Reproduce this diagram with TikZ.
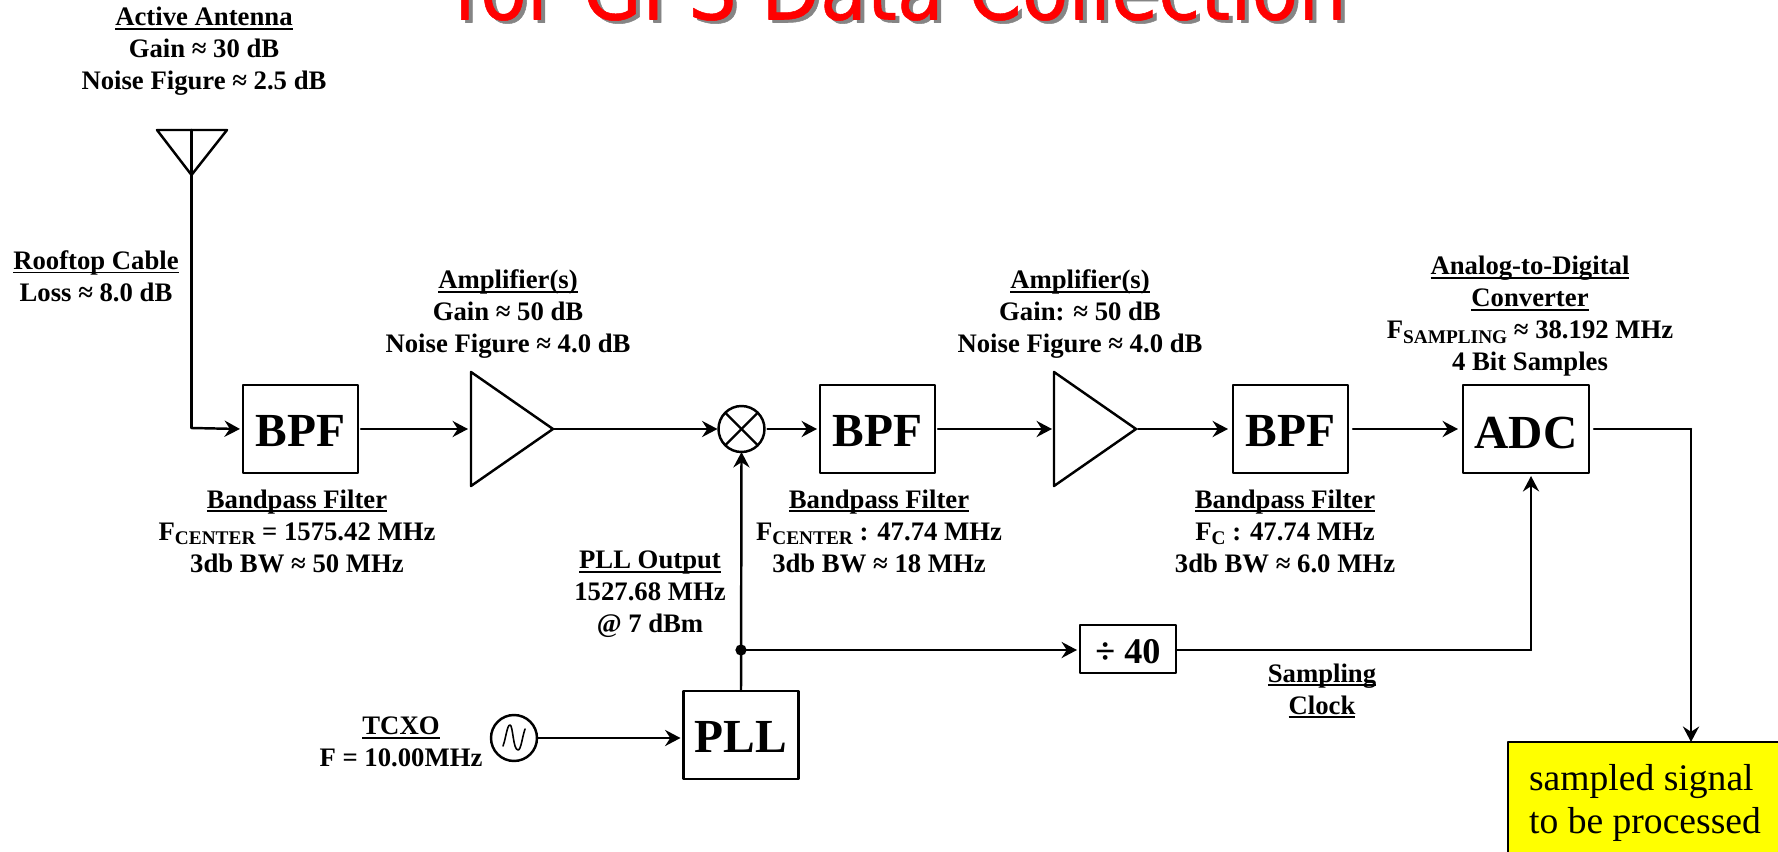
\documentclass[tikz,border=0pt]{standalone}
\usepackage{fontspec}
\setmainfont{Liberation Serif}
\newfontfamily\titlefont[FakeStretch=0.9,FakeBold=0.6]{DejaVu Sans}
\usetikzlibrary{arrows.meta,shapes.geometric}
\definecolor{titleRed}{HTML}{FF0000}
\definecolor{titleShadow}{HTML}{858585}
\definecolor{noteYellow}{HTML}{FFFF00}
\newcommand{\lowtxt}[1]{\raisebox{-0.4ex}{\fontsize{5.5}{6}\selectfont #1}}
\newcommand{\ultxt}[1]{\setbox0=\hbox{#1}\rlap{\rule[-1.2pt]{\wd0}{0.55pt}}\box0}
\tikzset{
    rfbox/.style={draw, line width=0.7pt, inner sep=0pt, outer sep=0pt, minimum width=1.15cm, minimum height=0.88cm, align=center, text height=0.35cm, font=\fontsize{13.5}{15}\selectfont\bfseries},
    rfamp/.style={draw, line width=0.7pt, shape=isosceles triangle, isosceles triangle stretches, minimum width=1.14cm, minimum height=0.82cm, inner sep=0pt, outer sep=0pt, anchor=lower side},
    rfnote/.style={align=center, inner sep=0pt, font=\fontsize{7.6}{9.1}\selectfont\bfseries},
    rfline/.style={-{Stealth[length=4.4pt, width=4.6pt, inset=1.5pt]}, line width=0.7pt},
    rfwire/.style={line width=0.7pt}
}
\begin{document}
\begin{tikzpicture}[line cap=round, line join=round]
            \useasboundingbox (0,0.02) rectangle (17.78,8.53);

            % clipped heading and note box
            \begin{scope}
            \clip (0,0.02) rectangle (17.78,8.53);
            \node[anchor=base, inner sep=0pt, text=titleShadow, font=\fontsize{24.2}{26}\selectfont\titlefont] (headshadow) at (9.04,8.305) {for GPS Data Collection};
            \node[anchor=base, inner sep=0pt, text=titleRed, font=\fontsize{24.2}{26}\selectfont\titlefont] (head) at (9.00,8.335) {for GPS Data Collection};
            \node[draw, fill=noteYellow, line width=0.7pt, anchor=north west, minimum width=3.0cm, minimum height=1.11cm, inner sep=0pt, outer sep=0pt] (sampled) at (15.08,1.11) {};
            \end{scope}
            \node[align=left, inner sep=0pt, font=\fontsize{10.7}{12.2}\selectfont] (sampledtxt) at (16.45,0.50) {sampled signal\\to be processed};

            % antenna
            \coordinate (anttop) at (1.915,7.23);
            \coordinate (anttip) at (1.915,6.78);
            \coordinate (antbend) at (1.915,4.25);
            \draw[rfwire] (1.57,7.23) -- (2.27,7.23) -- (anttip) -- cycle;
            \draw[rfwire] (anttop) -- (anttip);

            % main chain
            \node[rfbox] (bpfa) at (3.005,4.24) {BPF};
            \node[rfamp] (ampa) at (4.71,4.24) {};
            \node[draw, circle, line width=0.7pt, minimum size=0.46cm, inner sep=0pt, outer sep=0pt] (mix) at (7.415,4.24) {};
            \node[rfbox] (bpfb) at (8.775,4.24) {BPF};
            \node[rfamp] (ampb) at (10.54,4.24) {};
            \node[rfbox] (bpfc) at (12.905,4.24) {BPF};
            \node[rfbox, minimum width=1.26cm, text height=0.40cm] (adc) at (15.26,4.24) {ADC};
            \node[rfbox] (pll) at (7.41,1.18) {PLL};
            \node[rfbox, minimum width=0.96cm, minimum height=0.48cm, text height=0.29cm, font=\fontsize{10.3}{12}\selectfont\bfseries] (divider) at (11.28,2.04) {÷ 40};
            \node[draw, circle, line width=0.7pt, minimum size=0.46cm, inner sep=0pt, outer sep=0pt] (osc) at (5.14,1.15) {};

            % mixer cross and oscillator sine
            \draw[rfwire] (mix.north west) -- (mix.south east);
            \draw[rfwire] (mix.north east) -- (mix.south west);
            \begin{scope}[shift={(osc.center)}]
            \draw[line width=0.45pt] (-0.11,-0.08) .. controls (-0.08,0) and (-0.07,0.13) .. (-0.04,0.13) .. controls (-0.01,0.13) and (-0.01,-0.12) .. (0.04,-0.12) .. controls (0.07,-0.12) and (0.08,0) .. (0.11,0.09);
            \end{scope}

            % connectors
            \draw[rfwire] (anttip) -- (antbend);
            \draw[rfline] (antbend) -- ([xshift=-0.03cm]bpfa.west);
            \draw[rfline] ([xshift=0.03cm]bpfa.east) -- ([xshift=-0.03cm]ampa.lower side);
            \draw[rfline] (ampa.apex) -- ([xshift=-0.01cm]mix.west);
            \draw[rfline] ([xshift=0.03cm]mix.east) -- ([xshift=-0.03cm]bpfb.west);
            \draw[rfline] ([xshift=0.03cm]bpfb.east) -- ([xshift=-0.02cm]ampb.lower side);
            \draw[rfline] ([xshift=0.02cm]ampb.apex) -- ([xshift=-0.05cm]bpfc.west);
            \draw[rfline] ([xshift=0.05cm]bpfc.east) -- ([xshift=-0.05cm]adc.west);
            \coordinate (adcbend) at (16.91,4.24);
            \draw[rfwire] ([xshift=0.05cm]adc.east) -- (adcbend);
            \draw[rfline] (adcbend) -- (sampled.north -| adcbend);
            \draw[rfline] (pll.north) -- (mix.south);
            \coordinate (tap) at (7.41,2.03);
            \fill (tap) circle (1.6pt);
            \draw[rfline] (tap) -- ([xshift=-0.03cm]divider.west |- tap);
            \coordinate (clkbend) at (15.31,2.03);
            \draw[rfwire] (divider.east |- tap) -- (clkbend);
            \draw[rfline] (clkbend) -- ([yshift=-0.03cm]adc.south -| clkbend);
            \draw[rfline] (osc.east) -- ([xshift=-0.03cm]pll.west |- osc.east);

            % labels
            \node[rfnote] (antlabel) at (2.04,8.02) {\ultxt{Active Antenna}\\Gain ≈ 30 dB\\Noise Figure ≈ 2.5 dB};
            \node[rfnote] (cablelabel) at (0.96,5.77) {\ultxt{Rooftop Cable}\\Loss ≈ 8.0 dB};
            \node[rfnote] (ampalabel) at (5.08,5.39) {\ultxt{Amplifier(s)}\\Gain ≈ 50 dB\\Noise Figure ≈ 4.0 dB};
            \node[rfnote] (ampblabel) at (10.80,5.39) {\ultxt{Amplifier(s)}\\Gain: ≈ 50 dB\\Noise Figure ≈ 4.0 dB};
            \node[rfnote] (bpfalabel) at (2.97,3.22) {\ultxt{Bandpass Filter}\\F\lowtxt{CENTER} = 1575.42 MHz\\3db BW ≈ 50 MHz};
            \node[rfnote] (bpfblabel) at (8.79,3.22) {\ultxt{Bandpass Filter}\\F\lowtxt{CENTER} : 47.74 MHz\\3db BW ≈ 18 MHz};
            \node[rfnote] (bpfclabel) at (12.85,3.22) {\ultxt{Bandpass Filter}\\F\lowtxt{C} : 47.74 MHz\\3db BW ≈ 6.0 MHz};
            \node[rfnote] (adclabel) at (15.30,5.37) {\ultxt{Analog-to-Digital}\\\ultxt{Converter}\\F\lowtxt{SAMPLING} ≈ 38.192 MHz\\4 Bit Samples};
            \node[rfnote] (plllabel) at (6.50,2.59) {\ultxt{PLL Output}\\1527.68 MHz\\@ 7 dBm};
            \node[rfnote] (osclabel) at (4.01,1.11) {\ultxt{TCXO}\\F = 10.00MHz};
            \node[rfnote] (clklabel) at (13.22,1.62) {\ultxt{Sampling}\\\ultxt{Clock}};
        \end{tikzpicture}
\end{document}
